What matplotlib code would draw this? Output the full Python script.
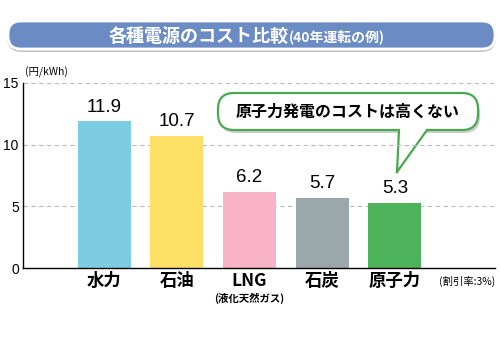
import matplotlib
matplotlib.use("Agg")
import matplotlib.pyplot as plt
from matplotlib.patches import FancyBboxPatch, Polygon
from matplotlib.lines import Line2D

plt.rcParams['font.family'] = ['Noto Sans CJK JP', 'DejaVu Sans']

categories = ["水力", "石油", "LNG", "石炭", "原子力"]
values = [11.9, 10.7, 6.2, 5.7, 5.3]
value_labels = ["11.9", "10.7", "6.2", "5.7", "5.3"]
colors = ["#7dcde2", "#ffe066", "#f8b4c6", "#9aa8ab", "#4cb35b"]
yticks = [0, 5, 10, 15]

W, H = 502, 337
fig = plt.figure(figsize=(W / 100, H / 100), dpi=100)

# overlay in pixel coords for decorations
ov = fig.add_axes([0, 0, 1, 1], zorder=0)
ov.set_xlim(0, W)
ov.set_ylim(H, 0)
ov.axis("off")

ax = fig.add_axes([23 / W, 1 - 268 / H, (495 - 23) / W, (268 - 83) / H], zorder=1)
ax.patch.set_alpha(0)
x = list(range(len(categories)))
ax.bar(x, values, width=0.73, color=colors, zorder=2)
ax.set_xlim(-1.12, 5.38)
ax.set_ylim(0, 15)
ax.set_yticks(yticks)
ax.set_yticklabels([str(t) for t in yticks], family=['Liberation Sans'], fontsize=10)
ax.tick_params(axis='y', length=0, pad=3)
ax.set_xticks([])
for s in ["top", "right"]:
    ax.spines[s].set_visible(False)
ax.spines["left"].set_linewidth(1.0)
ax.spines["bottom"].set_linewidth(1.0)
for t in yticks[1:]:
    ax.axhline(t, color="#bbbbbb", lw=0.8, ls=(0, (4, 3)), zorder=1)

for xi, v, lab in zip(x, values, value_labels):
    ax.annotate(lab, (xi, v), xytext=(0, 4), textcoords="offset points",
                ha="center", va="bottom", fontsize=13.5, family=['Liberation Sans'])
for xi, c in zip(x, categories):
    ax.annotate(c, (xi, 0), xytext=(0, -3), textcoords="offset points",
                ha="center", va="top", fontsize=12.5, fontweight="bold")
ax.annotate("(液化天然ガス)", (2, 0), xytext=(0, -17.5), textcoords="offset points",
            ha="center", va="top", fontsize=7.5, fontweight="bold")
ax.text(1.0, -0.045, "(割引率:3%)", transform=ax.transAxes, ha="right", va="top",
        fontsize=7.5)
ax.text(0.005, 1.025, "(円/kWh)", transform=ax.transAxes, ha="left", va="bottom",
        fontsize=7.5)

# title banner
ov.add_patch(FancyBboxPatch((7, 20), 489, 32, boxstyle="round,pad=0,rounding_size=15",
                            fc="#c4c4c4", ec="none", zorder=1))
ov.add_patch(FancyBboxPatch((8, 21), 487, 28, boxstyle="round,pad=0,rounding_size=13",
                            fc="#6a8bc4", ec="white", lw=2, zorder=2))
ov.text(289, 36, "各種電源のコスト比較", ha="right", va="center", color="white",
        fontsize=13, fontweight="bold", zorder=3)
ov.text(289, 37, "(40年運転の例)", ha="left", va="center", color="white",
        fontsize=10, fontweight="bold", zorder=3)

# callout
green = "#4aa84f"
ov.add_patch(FancyBboxPatch((220, 96), 260, 37, boxstyle="round,pad=0,rounding_size=16",
                            fc="#cccccc", ec="none", zorder=1))
ov.add_patch(FancyBboxPatch((218, 93), 260, 37, boxstyle="round,pad=0,rounding_size=16",
                            fc="white", ec=green, lw=1.6, zorder=2))
ov.add_patch(Polygon([(398, 128), (428, 128), (397, 172)], closed=True,
                     fc="white", ec="none", zorder=3))
ov.add_line(Line2D([399, 397], [130, 172], color=green, lw=1.6, zorder=4))
ov.add_line(Line2D([427, 397], [130, 172], color=green, lw=1.6, zorder=4))
ov.text(348, 112, "原子力発電のコストは高くない", ha="center", va="center",
        fontsize=11.5, fontweight="bold", zorder=5)

fig.savefig("out.png", dpi=100)
